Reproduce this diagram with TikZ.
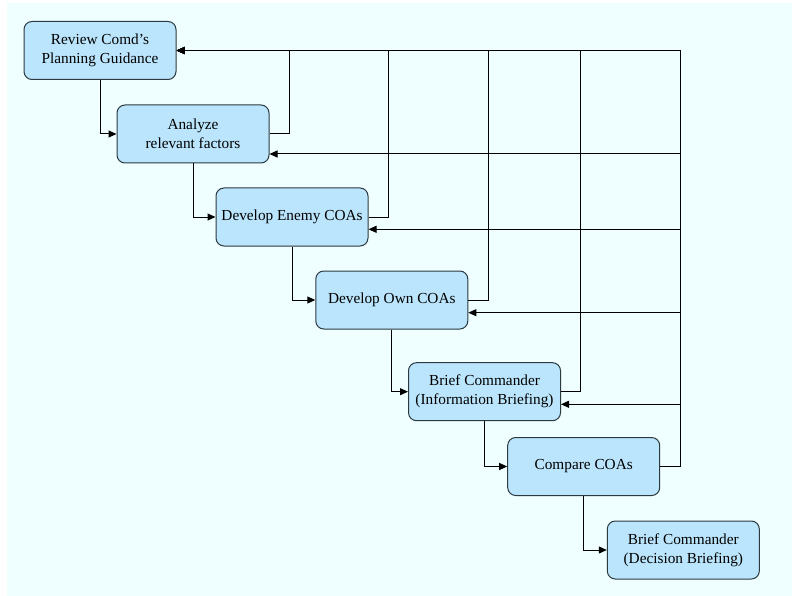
\documentclass[tikz,border=0pt]{standalone}
\usepackage{fontspec}
\setmainfont{Liberation Serif}
\usetikzlibrary{arrows.meta}
\definecolor{pagebg}{HTML}{EFFFFF}
\definecolor{boxfill}{HTML}{BBE5FC}
\definecolor{boxline}{HTML}{2B3A40}
\tikzset{
  stepbox/.style={draw=boxline, line width=1pt, fill=boxfill, rounded corners=8pt,
    minimum width=152pt, minimum height=58pt, inner sep=2pt, align=center,
    font=\fontsize{15.3}{19}\selectfont},
  flow/.style={draw=black, line width=1pt, -{Triangle[length=8pt,width=7pt]}},
}
\begin{document}
\begin{tikzpicture}[x=1pt,y=-1pt]
\useasboundingbox (0,0) rectangle (792,596);
\fill[white] (0,0) rectangle (792,596);
\fill[pagebg] (7,3) rectangle (792,596);

% planning steps
\node[stepbox] (b1) at (100,50.5)  {Review Comd’s\\Planning Guidance};
\node[stepbox] (b2) at (193,134)   {Analyze\\relevant factors};
\node[stepbox] (b3) at (292,217)   {Develop Enemy COAs};
\node[stepbox] (b4) at (391.8,300) {Develop Own COAs};
\node[stepbox] (b5) at (484.5,391.7) {Brief Commander\\(Information Briefing)};
\node[stepbox] (b6) at (583.7,466.5) {Compare COAs};
\node[stepbox] (b7) at (683.3,550)   {Brief Commander\\(Decision Briefing)};

% x positions of the return lines
\coordinate (c2) at (289,0);
\coordinate (c3) at (388.3,0);
\coordinate (c4) at (488,0);
\coordinate (c5) at (580.3,0);
\coordinate (c6) at (680,0);

% forward sequence
\draw[flow] (b1.south) |- (b2.west);
\draw[flow] (b2.south) |- (b3.west);
\draw[flow] (b3.south) |- (b4.west);
\draw[flow] (b4.south) |- (b5.west);
\draw[flow] (b5.south) |- (b6.west);
\draw[flow] (b6.south) |- (b7.west);

% returns to the first step
\draw[flow] (b2.east) -| (c2 |- b1.east) -- (b1.east);
\draw[flow] (b3.east) -| (c3 |- b1.east) -- (b1.east);
\draw[flow] (b4.east) -| (c4 |- b1.east) -- (b1.east);
\draw[flow] (b5.east) -| (c5 |- b1.east) -- (b1.east);
\draw[flow] (b6.east) -| (c6 |- b1.east) -- (b1.east);

% returns from Compare COAs to the earlier steps
\coordinate (r2) at ([yshift=-20pt]b2.east);
\coordinate (r3) at ([yshift=-12.3pt]b3.east);
\coordinate (r4) at ([yshift=-12.7pt]b4.east);
\coordinate (r5) at ([yshift=-12.6pt]b5.east);
\draw[flow] (c6 |- r2) -- (r2);
\draw[flow] (c6 |- r3) -- (r3);
\draw[flow] (c6 |- r4) -- (r4);
\draw[flow] (c6 |- r5) -- (r5);
\end{tikzpicture}
\end{document}
